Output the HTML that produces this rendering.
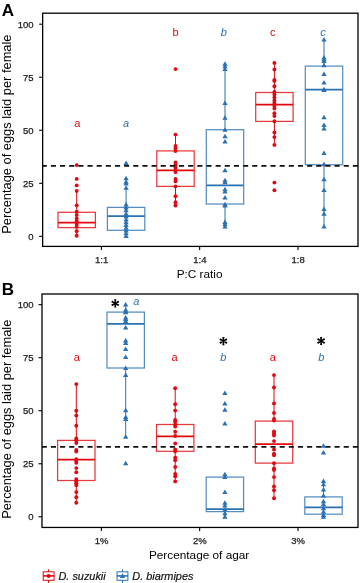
<!DOCTYPE html>
<html><head><meta charset="utf-8"><style>
html,body{margin:0;padding:0;background:#fff;width:360px;height:583px;overflow:hidden}
svg{display:block;will-change:transform}
text{font-family:"Liberation Sans",sans-serif}
.tk{font-size:9.5px;fill:#1a1a1a;stroke:#1a1a1a;stroke-width:0.25px}
.ti{font-size:11.8px;fill:#000}
.yt{font-size:12.85px;fill:#000}
.pl{font-size:17px;font-weight:bold;fill:#000}
.lt{font-size:11px}
.st{font-size:18px;font-weight:bold;fill:#000}
.lg{font-size:10.9px;font-style:italic;fill:#111;stroke:#111;stroke-width:0.2px}
</style></head><body>
<svg width="360" height="583" viewBox="0 0 360 583">
<rect width="360" height="583" fill="#fff"/>
<line x1="39.15" y1="236.35" x2="42.65" y2="236.35" stroke="#000" stroke-width="1.1"/>
<text x="33.6" y="239.95" text-anchor="end" class="tk">0</text>
<line x1="39.15" y1="183.31" x2="42.65" y2="183.31" stroke="#000" stroke-width="1.1"/>
<text x="33.6" y="186.91" text-anchor="end" class="tk">25</text>
<line x1="39.15" y1="130.27" x2="42.65" y2="130.27" stroke="#000" stroke-width="1.1"/>
<text x="33.6" y="133.87" text-anchor="end" class="tk">50</text>
<line x1="39.15" y1="77.24" x2="42.65" y2="77.24" stroke="#000" stroke-width="1.1"/>
<text x="33.6" y="80.84" text-anchor="end" class="tk">75</text>
<line x1="39.15" y1="24.20" x2="42.65" y2="24.20" stroke="#000" stroke-width="1.1"/>
<text x="33.6" y="27.80" text-anchor="end" class="tk">100</text>
<line x1="101.4" y1="246.40" x2="101.4" y2="249.90" stroke="#000" stroke-width="1.1"/>
<text x="101.60000000000001" y="262.90" text-anchor="middle" class="tk">1:1</text>
<line x1="199.65" y1="246.40" x2="199.65" y2="249.90" stroke="#000" stroke-width="1.1"/>
<text x="199.85" y="262.90" text-anchor="middle" class="tk">1:4</text>
<line x1="298.0" y1="246.40" x2="298.0" y2="249.90" stroke="#000" stroke-width="1.1"/>
<text x="298.2" y="262.90" text-anchor="middle" class="tk">1:8</text>
<text x="199.6" y="278.30" text-anchor="middle" class="ti">P:C ratio</text>
<text transform="translate(10.8 134.10) rotate(-90)" text-anchor="middle" class="yt">Percentage of eggs laid per female</text>
<text x="1.8" y="15.80" class="pl">A</text>
<line x1="38.50" y1="516.80" x2="42.00" y2="516.80" stroke="#000" stroke-width="1.1"/>
<text x="33.6" y="520.40" text-anchor="end" class="tk">0</text>
<line x1="38.50" y1="463.76" x2="42.00" y2="463.76" stroke="#000" stroke-width="1.1"/>
<text x="33.6" y="467.36" text-anchor="end" class="tk">25</text>
<line x1="38.50" y1="410.72" x2="42.00" y2="410.72" stroke="#000" stroke-width="1.1"/>
<text x="33.6" y="414.32" text-anchor="end" class="tk">50</text>
<line x1="38.50" y1="357.69" x2="42.00" y2="357.69" stroke="#000" stroke-width="1.1"/>
<text x="33.6" y="361.29" text-anchor="end" class="tk">75</text>
<line x1="38.50" y1="304.65" x2="42.00" y2="304.65" stroke="#000" stroke-width="1.1"/>
<text x="33.6" y="308.25" text-anchor="end" class="tk">100</text>
<line x1="101.4" y1="527.45" x2="101.4" y2="530.95" stroke="#000" stroke-width="1.1"/>
<text x="101.60000000000001" y="543.70" text-anchor="middle" class="tk">1%</text>
<line x1="199.65" y1="527.45" x2="199.65" y2="530.95" stroke="#000" stroke-width="1.1"/>
<text x="199.85" y="543.70" text-anchor="middle" class="tk">2%</text>
<line x1="298.0" y1="527.45" x2="298.0" y2="530.95" stroke="#000" stroke-width="1.1"/>
<text x="298.2" y="543.70" text-anchor="middle" class="tk">3%</text>
<text x="199.1" y="558.80" text-anchor="middle" class="ti">Percentage of agar</text>
<text transform="translate(10.8 419.25) rotate(-90)" text-anchor="middle" class="yt">Percentage of eggs laid per female</text>
<text x="1.8" y="294.80" class="pl">B</text>
<line x1="76.70" y1="190.90" x2="76.70" y2="212.30" stroke="#e2080f" stroke-width="1"/>
<line x1="76.70" y1="227.60" x2="76.70" y2="235.70" stroke="#e2080f" stroke-width="1"/>
<rect x="58.00" y="212.30" width="37.40" height="15.30" fill="none" stroke="#e2080f" stroke-width="1.25" stroke-opacity="0.8"/>
<line x1="58.00" y1="222.65" x2="95.40" y2="222.65" stroke="#e2080f" stroke-width="1.7"/>
<line x1="126.10" y1="187.80" x2="126.10" y2="207.40" stroke="#2a71b3" stroke-width="1"/>
<line x1="126.10" y1="230.30" x2="126.10" y2="236.00" stroke="#2a71b3" stroke-width="1"/>
<rect x="107.40" y="207.40" width="37.40" height="22.90" fill="none" stroke="#2a71b3" stroke-width="1.25" stroke-opacity="0.8"/>
<line x1="107.40" y1="216.15" x2="144.80" y2="216.15" stroke="#2a71b3" stroke-width="1.7"/>
<line x1="175.50" y1="134.60" x2="175.50" y2="150.90" stroke="#e2080f" stroke-width="1"/>
<line x1="175.50" y1="186.40" x2="175.50" y2="205.50" stroke="#e2080f" stroke-width="1"/>
<rect x="156.80" y="150.90" width="37.40" height="35.50" fill="none" stroke="#e2080f" stroke-width="1.25" stroke-opacity="0.8"/>
<line x1="156.80" y1="170.35" x2="194.20" y2="170.35" stroke="#e2080f" stroke-width="1.7"/>
<line x1="225.00" y1="63.70" x2="225.00" y2="129.70" stroke="#2a71b3" stroke-width="1"/>
<line x1="225.00" y1="204.00" x2="225.00" y2="226.60" stroke="#2a71b3" stroke-width="1"/>
<rect x="206.30" y="129.70" width="37.40" height="74.30" fill="none" stroke="#2a71b3" stroke-width="1.25" stroke-opacity="0.8"/>
<line x1="206.30" y1="185.35" x2="243.70" y2="185.35" stroke="#2a71b3" stroke-width="1.7"/>
<line x1="274.40" y1="62.50" x2="274.40" y2="92.50" stroke="#e2080f" stroke-width="1"/>
<line x1="274.40" y1="121.40" x2="274.40" y2="144.90" stroke="#e2080f" stroke-width="1"/>
<rect x="255.70" y="92.50" width="37.40" height="28.90" fill="none" stroke="#e2080f" stroke-width="1.25" stroke-opacity="0.8"/>
<line x1="255.70" y1="104.55" x2="293.10" y2="104.55" stroke="#e2080f" stroke-width="1.7"/>
<line x1="324.00" y1="39.60" x2="324.00" y2="66.10" stroke="#2a71b3" stroke-width="1"/>
<line x1="324.00" y1="164.70" x2="324.00" y2="226.50" stroke="#2a71b3" stroke-width="1"/>
<rect x="305.30" y="66.10" width="37.40" height="98.60" fill="none" stroke="#2a71b3" stroke-width="1.25" stroke-opacity="0.8"/>
<line x1="305.30" y1="89.65" x2="342.70" y2="89.65" stroke="#2a71b3" stroke-width="1.7"/>
<circle cx="76.70" cy="165.10" r="1.95" fill="#e2080f"/>
<circle cx="76.70" cy="178.90" r="1.95" fill="#e2080f"/>
<circle cx="76.70" cy="185.40" r="1.95" fill="#e2080f"/>
<circle cx="76.70" cy="190.90" r="1.95" fill="#e2080f"/>
<circle cx="76.70" cy="205.40" r="1.95" fill="#e2080f"/>
<circle cx="76.70" cy="211.80" r="1.95" fill="#e2080f"/>
<circle cx="76.70" cy="215.00" r="1.95" fill="#e2080f"/>
<circle cx="76.70" cy="218.50" r="1.95" fill="#e2080f"/>
<circle cx="76.70" cy="221.30" r="1.95" fill="#e2080f"/>
<circle cx="76.70" cy="224.00" r="1.95" fill="#e2080f"/>
<circle cx="76.70" cy="226.80" r="1.95" fill="#e2080f"/>
<circle cx="76.70" cy="231.20" r="1.95" fill="#e2080f"/>
<circle cx="76.70" cy="235.70" r="1.95" fill="#e2080f"/>
<path d="M123.45 164.93L126.10 160.43L128.75 164.93Z" fill="#2a71b3"/>
<path d="M123.45 180.33L126.10 175.83L128.75 180.33Z" fill="#2a71b3"/>
<path d="M123.45 183.83L126.10 179.33L128.75 183.83Z" fill="#2a71b3"/>
<path d="M123.45 185.53L126.10 181.03L128.75 185.53Z" fill="#2a71b3"/>
<path d="M123.45 189.83L126.10 185.33L128.75 189.83Z" fill="#2a71b3"/>
<path d="M123.45 206.43L126.10 201.93L128.75 206.43Z" fill="#2a71b3"/>
<path d="M123.45 209.53L126.10 205.03L128.75 209.53Z" fill="#2a71b3"/>
<path d="M123.45 212.33L126.10 207.83L128.75 212.33Z" fill="#2a71b3"/>
<path d="M123.45 215.83L126.10 211.33L128.75 215.83Z" fill="#2a71b3"/>
<path d="M123.45 218.53L126.10 214.03L128.75 218.53Z" fill="#2a71b3"/>
<path d="M123.45 221.53L126.10 217.03L128.75 221.53Z" fill="#2a71b3"/>
<path d="M123.45 224.33L126.10 219.83L128.75 224.33Z" fill="#2a71b3"/>
<path d="M123.45 227.03L126.10 222.53L128.75 227.03Z" fill="#2a71b3"/>
<path d="M123.45 229.83L126.10 225.33L128.75 229.83Z" fill="#2a71b3"/>
<path d="M123.45 232.53L126.10 228.03L128.75 232.53Z" fill="#2a71b3"/>
<path d="M123.45 235.33L126.10 230.83L128.75 235.33Z" fill="#2a71b3"/>
<path d="M123.45 238.03L126.10 233.53L128.75 238.03Z" fill="#2a71b3"/>
<circle cx="175.50" cy="69.10" r="1.95" fill="#e2080f"/>
<circle cx="175.50" cy="134.60" r="1.95" fill="#e2080f"/>
<circle cx="175.50" cy="146.00" r="1.95" fill="#e2080f"/>
<circle cx="175.50" cy="148.50" r="1.95" fill="#e2080f"/>
<circle cx="175.50" cy="151.00" r="1.95" fill="#e2080f"/>
<circle cx="175.50" cy="162.50" r="1.95" fill="#e2080f"/>
<circle cx="175.50" cy="165.00" r="1.95" fill="#e2080f"/>
<circle cx="175.50" cy="167.50" r="1.95" fill="#e2080f"/>
<circle cx="175.50" cy="170.00" r="1.95" fill="#e2080f"/>
<circle cx="175.50" cy="172.00" r="1.95" fill="#e2080f"/>
<circle cx="175.50" cy="178.90" r="1.95" fill="#e2080f"/>
<circle cx="175.50" cy="181.40" r="1.95" fill="#e2080f"/>
<circle cx="175.50" cy="186.40" r="1.95" fill="#e2080f"/>
<circle cx="175.50" cy="196.30" r="1.95" fill="#e2080f"/>
<circle cx="175.50" cy="202.30" r="1.95" fill="#e2080f"/>
<circle cx="175.50" cy="205.50" r="1.95" fill="#e2080f"/>
<path d="M222.35 65.73L225.00 61.23L227.65 65.73Z" fill="#2a71b3"/>
<path d="M222.35 68.33L225.00 63.82L227.65 68.33Z" fill="#2a71b3"/>
<path d="M222.35 70.93L225.00 66.43L227.65 70.93Z" fill="#2a71b3"/>
<path d="M222.35 105.12L225.00 100.62L227.65 105.12Z" fill="#2a71b3"/>
<path d="M222.35 119.73L225.00 115.23L227.65 119.73Z" fill="#2a71b3"/>
<path d="M222.35 131.83L225.00 127.33L227.65 131.83Z" fill="#2a71b3"/>
<path d="M222.35 138.22L225.00 133.72L227.65 138.22Z" fill="#2a71b3"/>
<path d="M222.35 143.53L225.00 139.03L227.65 143.53Z" fill="#2a71b3"/>
<path d="M222.35 172.33L225.00 167.83L227.65 172.33Z" fill="#2a71b3"/>
<path d="M222.35 182.33L225.00 177.83L227.65 182.33Z" fill="#2a71b3"/>
<path d="M222.35 184.33L225.00 179.83L227.65 184.33Z" fill="#2a71b3"/>
<path d="M222.35 191.33L225.00 186.83L227.65 191.33Z" fill="#2a71b3"/>
<path d="M222.35 193.53L225.00 189.03L227.65 193.53Z" fill="#2a71b3"/>
<path d="M222.35 199.53L225.00 195.03L227.65 199.53Z" fill="#2a71b3"/>
<path d="M222.35 206.33L225.00 201.83L227.65 206.33Z" fill="#2a71b3"/>
<path d="M222.35 207.53L225.00 203.03L227.65 207.53Z" fill="#2a71b3"/>
<path d="M222.35 224.03L225.00 219.53L227.65 224.03Z" fill="#2a71b3"/>
<path d="M222.35 226.03L225.00 221.53L227.65 226.03Z" fill="#2a71b3"/>
<path d="M222.35 228.62L225.00 224.12L227.65 228.62Z" fill="#2a71b3"/>
<circle cx="274.40" cy="62.90" r="1.95" fill="#e2080f"/>
<circle cx="274.40" cy="69.50" r="1.95" fill="#e2080f"/>
<circle cx="274.40" cy="80.00" r="1.95" fill="#e2080f"/>
<circle cx="274.40" cy="80.90" r="1.95" fill="#e2080f"/>
<circle cx="274.40" cy="86.20" r="1.95" fill="#e2080f"/>
<circle cx="274.40" cy="92.00" r="1.95" fill="#e2080f"/>
<circle cx="274.40" cy="94.50" r="1.95" fill="#e2080f"/>
<circle cx="274.40" cy="97.50" r="1.95" fill="#e2080f"/>
<circle cx="274.40" cy="100.40" r="1.95" fill="#e2080f"/>
<circle cx="274.40" cy="103.00" r="1.95" fill="#e2080f"/>
<circle cx="274.40" cy="106.00" r="1.95" fill="#e2080f"/>
<circle cx="274.40" cy="108.60" r="1.95" fill="#e2080f"/>
<circle cx="274.40" cy="113.20" r="1.95" fill="#e2080f"/>
<circle cx="274.40" cy="116.00" r="1.95" fill="#e2080f"/>
<circle cx="274.40" cy="121.20" r="1.95" fill="#e2080f"/>
<circle cx="274.40" cy="132.50" r="1.95" fill="#e2080f"/>
<circle cx="274.40" cy="137.10" r="1.95" fill="#e2080f"/>
<circle cx="274.40" cy="144.90" r="1.95" fill="#e2080f"/>
<circle cx="274.40" cy="182.60" r="1.95" fill="#e2080f"/>
<circle cx="274.40" cy="190.30" r="1.95" fill="#e2080f"/>
<path d="M321.35 41.62L324.00 37.12L326.65 41.62Z" fill="#2a71b3"/>
<path d="M321.35 59.62L324.00 55.12L326.65 59.62Z" fill="#2a71b3"/>
<path d="M321.35 61.32L324.00 56.82L326.65 61.32Z" fill="#2a71b3"/>
<path d="M321.35 63.02L324.00 58.52L326.65 63.02Z" fill="#2a71b3"/>
<path d="M321.35 67.33L324.00 62.82L326.65 67.33Z" fill="#2a71b3"/>
<path d="M321.35 75.93L324.00 71.43L326.65 75.93Z" fill="#2a71b3"/>
<path d="M321.35 84.43L324.00 79.93L326.65 84.43Z" fill="#2a71b3"/>
<path d="M321.35 91.33L324.00 86.83L326.65 91.33Z" fill="#2a71b3"/>
<path d="M321.35 92.12L324.00 87.62L326.65 92.12Z" fill="#2a71b3"/>
<path d="M321.35 119.33L324.00 114.83L326.65 119.33Z" fill="#2a71b3"/>
<path d="M321.35 127.03L324.00 122.53L326.65 127.03Z" fill="#2a71b3"/>
<path d="M321.35 130.53L324.00 126.03L326.65 130.53Z" fill="#2a71b3"/>
<path d="M321.35 154.93L324.00 150.43L326.65 154.93Z" fill="#2a71b3"/>
<path d="M321.35 166.22L324.00 161.72L326.65 166.22Z" fill="#2a71b3"/>
<path d="M321.35 181.22L324.00 176.72L326.65 181.22Z" fill="#2a71b3"/>
<path d="M321.35 191.93L324.00 187.43L326.65 191.93Z" fill="#2a71b3"/>
<path d="M321.35 210.93L324.00 206.43L326.65 210.93Z" fill="#2a71b3"/>
<path d="M321.35 215.83L324.00 211.33L326.65 215.83Z" fill="#2a71b3"/>
<path d="M321.35 228.53L324.00 224.03L326.65 228.53Z" fill="#2a71b3"/>
<line x1="76.30" y1="384.10" x2="76.30" y2="440.40" stroke="#e2080f" stroke-width="1"/>
<line x1="76.30" y1="480.50" x2="76.30" y2="502.80" stroke="#e2080f" stroke-width="1"/>
<rect x="57.60" y="440.40" width="37.40" height="40.10" fill="none" stroke="#e2080f" stroke-width="1.25" stroke-opacity="0.8"/>
<line x1="57.60" y1="459.55" x2="95.00" y2="459.55" stroke="#e2080f" stroke-width="1.7"/>
<line x1="125.70" y1="304.60" x2="125.70" y2="312.10" stroke="#2a71b3" stroke-width="1"/>
<line x1="125.70" y1="368.00" x2="125.70" y2="436.80" stroke="#2a71b3" stroke-width="1"/>
<rect x="107.00" y="312.10" width="37.40" height="55.90" fill="none" stroke="#2a71b3" stroke-width="1.25" stroke-opacity="0.8"/>
<line x1="107.00" y1="323.85" x2="144.40" y2="323.85" stroke="#2a71b3" stroke-width="1.7"/>
<line x1="175.20" y1="388.30" x2="175.20" y2="424.50" stroke="#e2080f" stroke-width="1"/>
<line x1="175.20" y1="451.30" x2="175.20" y2="481.40" stroke="#e2080f" stroke-width="1"/>
<rect x="156.50" y="424.50" width="37.40" height="26.80" fill="none" stroke="#e2080f" stroke-width="1.25" stroke-opacity="0.8"/>
<line x1="156.50" y1="436.35" x2="193.90" y2="436.35" stroke="#e2080f" stroke-width="1.7"/>
<line x1="224.90" y1="474.30" x2="224.90" y2="477.10" stroke="#2a71b3" stroke-width="1"/>
<line x1="224.90" y1="511.60" x2="224.90" y2="516.80" stroke="#2a71b3" stroke-width="1"/>
<rect x="206.20" y="477.10" width="37.40" height="34.50" fill="none" stroke="#2a71b3" stroke-width="1.25" stroke-opacity="0.8"/>
<line x1="206.20" y1="509.15" x2="243.60" y2="509.15" stroke="#2a71b3" stroke-width="1.7"/>
<line x1="274.00" y1="375.10" x2="274.00" y2="421.10" stroke="#e2080f" stroke-width="1"/>
<line x1="274.00" y1="463.10" x2="274.00" y2="498.30" stroke="#e2080f" stroke-width="1"/>
<rect x="255.30" y="421.10" width="37.40" height="42.00" fill="none" stroke="#e2080f" stroke-width="1.25" stroke-opacity="0.8"/>
<line x1="255.30" y1="444.05" x2="292.70" y2="444.05" stroke="#e2080f" stroke-width="1.7"/>
<line x1="323.50" y1="480.90" x2="323.50" y2="496.90" stroke="#2a71b3" stroke-width="1"/>
<line x1="323.50" y1="514.20" x2="323.50" y2="516.80" stroke="#2a71b3" stroke-width="1"/>
<rect x="304.80" y="496.90" width="37.40" height="17.30" fill="none" stroke="#2a71b3" stroke-width="1.25" stroke-opacity="0.8"/>
<line x1="304.80" y1="507.35" x2="342.20" y2="507.35" stroke="#2a71b3" stroke-width="1.7"/>
<circle cx="76.30" cy="384.10" r="1.95" fill="#e2080f"/>
<circle cx="76.30" cy="410.70" r="1.95" fill="#e2080f"/>
<circle cx="76.30" cy="415.50" r="1.95" fill="#e2080f"/>
<circle cx="76.30" cy="425.80" r="1.95" fill="#e2080f"/>
<circle cx="76.30" cy="438.40" r="1.95" fill="#e2080f"/>
<circle cx="76.30" cy="440.40" r="1.95" fill="#e2080f"/>
<circle cx="76.30" cy="443.00" r="1.95" fill="#e2080f"/>
<circle cx="76.30" cy="449.90" r="1.95" fill="#e2080f"/>
<circle cx="76.30" cy="451.60" r="1.95" fill="#e2080f"/>
<circle cx="76.30" cy="459.30" r="1.95" fill="#e2080f"/>
<circle cx="76.30" cy="461.00" r="1.95" fill="#e2080f"/>
<circle cx="76.30" cy="462.70" r="1.95" fill="#e2080f"/>
<circle cx="76.30" cy="468.10" r="1.95" fill="#e2080f"/>
<circle cx="76.30" cy="472.20" r="1.95" fill="#e2080f"/>
<circle cx="76.30" cy="479.10" r="1.95" fill="#e2080f"/>
<circle cx="76.30" cy="481.20" r="1.95" fill="#e2080f"/>
<circle cx="76.30" cy="483.20" r="1.95" fill="#e2080f"/>
<circle cx="76.30" cy="485.30" r="1.95" fill="#e2080f"/>
<circle cx="76.30" cy="492.10" r="1.95" fill="#e2080f"/>
<circle cx="76.30" cy="497.30" r="1.95" fill="#e2080f"/>
<circle cx="76.30" cy="502.80" r="1.95" fill="#e2080f"/>
<path d="M123.05 306.62L125.70 302.12L128.35 306.62Z" fill="#2a71b3"/>
<path d="M123.05 311.72L125.70 307.22L128.35 311.72Z" fill="#2a71b3"/>
<path d="M123.05 313.42L125.70 308.92L128.35 313.42Z" fill="#2a71b3"/>
<path d="M123.05 314.32L125.70 309.82L128.35 314.32Z" fill="#2a71b3"/>
<path d="M123.05 319.42L125.70 314.92L128.35 319.42Z" fill="#2a71b3"/>
<path d="M123.05 321.12L125.70 316.62L128.35 321.12Z" fill="#2a71b3"/>
<path d="M123.05 322.92L125.70 318.42L128.35 322.92Z" fill="#2a71b3"/>
<path d="M123.05 329.52L125.70 325.02L128.35 329.52Z" fill="#2a71b3"/>
<path d="M123.05 342.62L125.70 338.12L128.35 342.62Z" fill="#2a71b3"/>
<path d="M123.05 345.12L125.70 340.62L128.35 345.12Z" fill="#2a71b3"/>
<path d="M123.05 351.12L125.70 346.62L128.35 351.12Z" fill="#2a71b3"/>
<path d="M123.05 358.92L125.70 354.42L128.35 358.92Z" fill="#2a71b3"/>
<path d="M123.05 370.02L125.70 365.52L128.35 370.02Z" fill="#2a71b3"/>
<path d="M123.05 376.92L125.70 372.42L128.35 376.92Z" fill="#2a71b3"/>
<path d="M123.05 412.22L125.70 407.72L128.35 412.22Z" fill="#2a71b3"/>
<path d="M123.05 419.12L125.70 414.62L128.35 419.12Z" fill="#2a71b3"/>
<path d="M123.05 421.12L125.70 416.62L128.35 421.12Z" fill="#2a71b3"/>
<path d="M123.05 438.82L125.70 434.32L128.35 438.82Z" fill="#2a71b3"/>
<path d="M123.05 465.32L125.70 460.82L128.35 465.32Z" fill="#2a71b3"/>
<circle cx="175.20" cy="388.30" r="1.95" fill="#e2080f"/>
<circle cx="175.20" cy="404.30" r="1.95" fill="#e2080f"/>
<circle cx="175.20" cy="410.60" r="1.95" fill="#e2080f"/>
<circle cx="175.20" cy="420.00" r="1.95" fill="#e2080f"/>
<circle cx="175.20" cy="421.40" r="1.95" fill="#e2080f"/>
<circle cx="175.20" cy="424.50" r="1.95" fill="#e2080f"/>
<circle cx="175.20" cy="426.60" r="1.95" fill="#e2080f"/>
<circle cx="175.20" cy="431.70" r="1.95" fill="#e2080f"/>
<circle cx="175.20" cy="436.00" r="1.95" fill="#e2080f"/>
<circle cx="175.20" cy="443.50" r="1.95" fill="#e2080f"/>
<circle cx="175.20" cy="449.50" r="1.95" fill="#e2080f"/>
<circle cx="175.20" cy="451.40" r="1.95" fill="#e2080f"/>
<circle cx="175.20" cy="457.60" r="1.95" fill="#e2080f"/>
<circle cx="175.20" cy="460.30" r="1.95" fill="#e2080f"/>
<circle cx="175.20" cy="467.00" r="1.95" fill="#e2080f"/>
<circle cx="175.20" cy="474.00" r="1.95" fill="#e2080f"/>
<circle cx="175.20" cy="476.40" r="1.95" fill="#e2080f"/>
<circle cx="175.20" cy="481.40" r="1.95" fill="#e2080f"/>
<path d="M222.25 394.92L224.90 390.42L227.55 394.92Z" fill="#2a71b3"/>
<path d="M222.25 405.52L224.90 401.02L227.55 405.52Z" fill="#2a71b3"/>
<path d="M222.25 411.72L224.90 407.22L227.55 411.72Z" fill="#2a71b3"/>
<path d="M222.25 425.42L224.90 420.92L227.55 425.42Z" fill="#2a71b3"/>
<path d="M222.25 476.32L224.90 471.82L227.55 476.32Z" fill="#2a71b3"/>
<path d="M222.25 479.02L224.90 474.52L227.55 479.02Z" fill="#2a71b3"/>
<path d="M222.25 494.02L224.90 489.52L227.55 494.02Z" fill="#2a71b3"/>
<path d="M222.25 504.82L224.90 500.32L227.55 504.82Z" fill="#2a71b3"/>
<path d="M222.25 507.52L224.90 503.02L227.55 507.52Z" fill="#2a71b3"/>
<path d="M222.25 511.52L224.90 507.02L227.55 511.52Z" fill="#2a71b3"/>
<path d="M222.25 515.32L224.90 510.82L227.55 515.32Z" fill="#2a71b3"/>
<path d="M222.25 518.82L224.90 514.32L227.55 518.82Z" fill="#2a71b3"/>
<circle cx="274.00" cy="375.10" r="1.95" fill="#e2080f"/>
<circle cx="274.00" cy="387.50" r="1.95" fill="#e2080f"/>
<circle cx="274.00" cy="403.40" r="1.95" fill="#e2080f"/>
<circle cx="274.00" cy="412.90" r="1.95" fill="#e2080f"/>
<circle cx="274.00" cy="418.90" r="1.95" fill="#e2080f"/>
<circle cx="274.00" cy="420.60" r="1.95" fill="#e2080f"/>
<circle cx="274.00" cy="431.40" r="1.95" fill="#e2080f"/>
<circle cx="274.00" cy="433.40" r="1.95" fill="#e2080f"/>
<circle cx="274.00" cy="435.50" r="1.95" fill="#e2080f"/>
<circle cx="274.00" cy="441.10" r="1.95" fill="#e2080f"/>
<circle cx="274.00" cy="449.40" r="1.95" fill="#e2080f"/>
<circle cx="274.00" cy="453.70" r="1.95" fill="#e2080f"/>
<circle cx="274.00" cy="455.20" r="1.95" fill="#e2080f"/>
<circle cx="274.00" cy="463.20" r="1.95" fill="#e2080f"/>
<circle cx="274.00" cy="468.50" r="1.95" fill="#e2080f"/>
<circle cx="274.00" cy="469.90" r="1.95" fill="#e2080f"/>
<circle cx="274.00" cy="477.10" r="1.95" fill="#e2080f"/>
<circle cx="274.00" cy="486.40" r="1.95" fill="#e2080f"/>
<circle cx="274.00" cy="490.30" r="1.95" fill="#e2080f"/>
<circle cx="274.00" cy="498.30" r="1.95" fill="#e2080f"/>
<path d="M320.85 447.72L323.50 443.22L326.15 447.72Z" fill="#2a71b3"/>
<path d="M320.85 454.62L323.50 450.12L326.15 454.62Z" fill="#2a71b3"/>
<path d="M320.85 482.92L323.50 478.42L326.15 482.92Z" fill="#2a71b3"/>
<path d="M320.85 486.32L323.50 481.82L326.15 486.32Z" fill="#2a71b3"/>
<path d="M320.85 491.42L323.50 486.92L326.15 491.42Z" fill="#2a71b3"/>
<path d="M320.85 497.42L323.50 492.92L326.15 497.42Z" fill="#2a71b3"/>
<path d="M320.85 503.32L323.50 498.82L326.15 503.32Z" fill="#2a71b3"/>
<path d="M320.85 506.32L323.50 501.82L326.15 506.32Z" fill="#2a71b3"/>
<path d="M320.85 510.32L323.50 505.82L326.15 510.32Z" fill="#2a71b3"/>
<path d="M320.85 513.83L323.50 509.32L326.15 513.83Z" fill="#2a71b3"/>
<path d="M320.85 517.02L323.50 512.52L326.15 517.02Z" fill="#2a71b3"/>
<path d="M320.85 518.82L323.50 514.32L326.15 518.82Z" fill="#2a71b3"/>
<line x1="42.65" y1="165.90" x2="358.00" y2="165.90" stroke="#111" stroke-width="1.6" stroke-dasharray="5.1 4.05" stroke-dashoffset="0.90"/>
<line x1="42.00" y1="446.90" x2="358.00" y2="446.90" stroke="#111" stroke-width="1.6" stroke-dasharray="5.1 4.05" stroke-dashoffset="0.25"/>
<rect x="42.65" y="13.20" width="315.35" height="233.20" fill="none" stroke="#000" stroke-width="1.3"/>
<rect x="42.00" y="294.00" width="316.00" height="233.45" fill="none" stroke="#000" stroke-width="1.3"/>
<text x="77.3" y="126.5" text-anchor="middle" class="lt" fill="#e2080f">a</text><text x="126.0" y="126.5" text-anchor="middle" class="lt" fill="#2a71b3" font-style="italic">a</text><text x="175.5" y="35.5" text-anchor="middle" class="lt" fill="#e2080f">b</text><text x="223.9" y="35.5" text-anchor="middle" class="lt" fill="#2a71b3" font-style="italic">b</text><text x="272.7" y="35.7" text-anchor="middle" class="lt" fill="#e2080f">c</text><text x="323.1" y="35.7" text-anchor="middle" class="lt" fill="#2a71b3" font-style="italic">c</text><text x="76.9" y="361.1" text-anchor="middle" class="lt" fill="#e2080f">a</text><text x="136.4" y="305.4" text-anchor="middle" class="lt" fill="#2a71b3" font-style="italic">a</text><text x="174.5" y="361.1" text-anchor="middle" class="lt" fill="#e2080f">a</text><text x="223.4" y="361.1" text-anchor="middle" class="lt" fill="#2a71b3" font-style="italic">b</text><text x="272.8" y="361.1" text-anchor="middle" class="lt" fill="#e2080f">a</text><text x="321.2" y="361.1" text-anchor="middle" class="lt" fill="#2a71b3" font-style="italic">b</text>
<path d="M115.80 303.40L116.30 299.30L114.20 299.30L114.70 303.40ZM115.53 303.88L119.33 302.26L118.28 300.44L114.97 302.92ZM114.97 303.88L118.28 306.36L119.33 304.54L115.53 302.92ZM114.70 303.40L114.20 307.50L116.30 307.50L115.80 303.40ZM114.97 302.92L111.17 304.54L112.22 306.36L115.53 303.88ZM115.53 302.92L112.22 300.44L111.17 302.26L114.97 303.88Z" fill="#000"/><path d="M223.95 341.10L224.45 337.00L222.35 337.00L222.85 341.10ZM223.68 341.58L227.48 339.96L226.43 338.14L223.12 340.62ZM223.12 341.58L226.43 344.06L227.48 342.24L223.68 340.62ZM222.85 341.10L222.35 345.20L224.45 345.20L223.95 341.10ZM223.12 340.62L219.32 342.24L220.37 344.06L223.68 341.58ZM223.68 340.62L220.37 338.14L219.32 339.96L223.12 341.58Z" fill="#000"/><path d="M321.65 341.00L322.15 336.90L320.05 336.90L320.55 341.00ZM321.38 341.48L325.18 339.86L324.13 338.04L320.83 340.52ZM320.83 341.48L324.13 343.96L325.18 342.14L321.38 340.52ZM320.55 341.00L320.05 345.10L322.15 345.10L321.65 341.00ZM320.83 340.52L317.02 342.14L318.07 343.96L321.38 341.48ZM321.38 340.52L318.07 338.04L317.02 339.86L320.83 341.48Z" fill="#000"/>

<line x1="48.6" y1="569.2" x2="48.6" y2="583" stroke="#e2080f" stroke-width="1"/>
<rect x="43.2" y="571.8" width="10.9" height="8.5" fill="#fff" stroke="#e2080f" stroke-width="1"/>
<line x1="43.2" y1="575.9" x2="54.1" y2="575.9" stroke="#e2080f" stroke-width="1.6"/>
<circle cx="48.60" cy="575.90" r="2.0" fill="#e2080f"/>
<text x="58.5" y="579.5" class="lg">D. suzukii</text>
<line x1="122.5" y1="569.2" x2="122.5" y2="583" stroke="#2a71b3" stroke-width="1"/>
<rect x="117.0" y="571.8" width="10.9" height="8.5" fill="#fff" stroke="#2a71b3" stroke-width="1"/>
<line x1="117.0" y1="575.9" x2="127.9" y2="575.9" stroke="#2a71b3" stroke-width="1.6"/>
<path d="M119.80 577.97L122.50 573.37L125.20 577.97Z" fill="#2a71b3"/>
<text x="132.3" y="579.5" class="lg">D. biarmipes</text>

</svg>
</body></html>
